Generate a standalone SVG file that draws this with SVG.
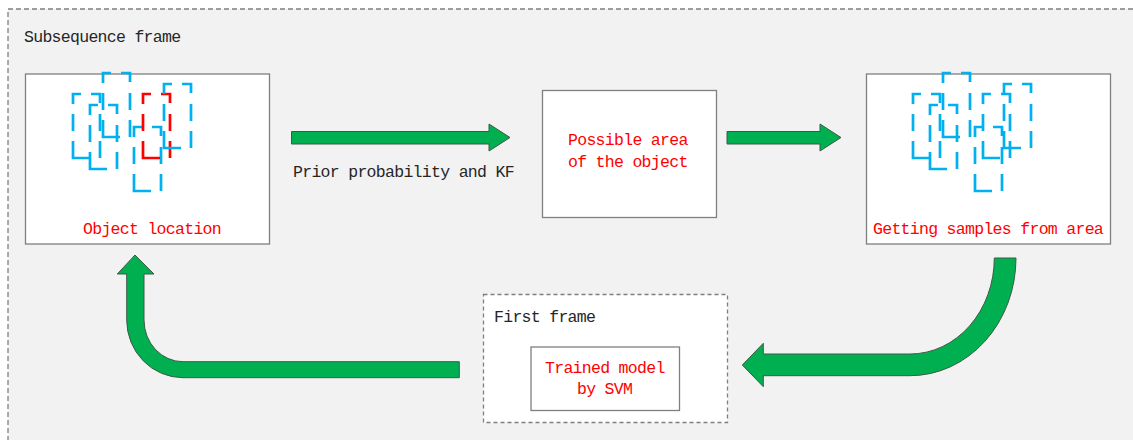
<svg xmlns="http://www.w3.org/2000/svg" xmlns:xlink="http://www.w3.org/1999/xlink" width="1133" height="440" viewBox="0 0 1133 440">
  <style>
    .txt { font-family: "Liberation Mono", "Courier New", monospace; font-size: 16.5px; letter-spacing: -0.7px; }
    .dark { fill: #262626; }
    .red { fill: #ff0000; }
    .box { fill: #ffffff; stroke: #7f7f7f; stroke-width: 1.3; }
    .smp { fill: none; stroke-width: 2.7; stroke-dasharray: 34 10 17 10 18 10 18 11 17 10 17 10; }
    .blue { stroke: #00b0f0; }
    .hot { stroke: #ff0000; }
    .arrow { fill: #00b050; stroke: #3d5a45; stroke-width: 1; stroke-linejoin: miter; }
  </style>
  <defs>
    <!-- candidate window outline, 27 x 64 -->
    <path id="win" d="M17 64 H0 V0 H27 V64 Z"/>
  </defs>

  <!-- outer container -->
  <g id="subsequence-frame">
    <rect x="0" y="0" width="1133" height="440" fill="#ffffff"/>
    <rect x="8" y="9" width="1200" height="500" fill="#f2f2f2" stroke="#7f7f7f" stroke-width="1.3" stroke-dasharray="5 3"/>
    <text class="txt dark" x="24" y="42">Subsequence frame</text>
  </g>

  <!-- tracked object -->
  <g id="object-location">
    <rect class="box" x="25.5" y="74" width="244" height="170"/>
    <use xlink:href="#win" class="smp blue" x="73" y="94"/>
    <use xlink:href="#win" class="smp blue" x="90" y="105"/>
    <use xlink:href="#win" class="smp blue" x="103" y="73"/>
    <use xlink:href="#win" class="smp blue" x="134" y="127"/>
    <use xlink:href="#win" class="smp hot" x="143" y="94"/>
    <use xlink:href="#win" class="smp blue" x="164" y="84"/>
    <text class="txt red" x="83" y="234">Object location</text>
  </g>

  <!-- predicted region -->
  <g id="possible-area">
    <rect class="box" x="542.5" y="90.5" width="174" height="127"/>
    <text class="txt red" x="568" y="145">Possible area</text>
    <text class="txt red" x="568" y="167">of the object</text>
  </g>

  <!-- sampling -->
  <g id="samples">
    <rect class="box" x="866.5" y="74" width="244" height="170"/>
    <use xlink:href="#win" class="smp blue" x="913" y="94"/>
    <use xlink:href="#win" class="smp blue" x="930" y="105"/>
    <use xlink:href="#win" class="smp blue" x="943" y="73"/>
    <use xlink:href="#win" class="smp blue" x="975" y="127"/>
    <use xlink:href="#win" class="smp blue" x="983" y="94"/>
    <use xlink:href="#win" class="smp blue" x="1004" y="84"/>
    <text class="txt red" x="873" y="234">Getting samples from area</text>
  </g>

  <!-- initial frame with classifier -->
  <g id="first-frame">
    <rect x="483.5" y="294.5" width="244" height="128" fill="#ffffff" stroke="#7f7f7f" stroke-width="1.3" stroke-dasharray="4 3"/>
    <text class="txt dark" x="494" y="322">First frame</text>
  </g>
  <g id="svm-model">
    <rect class="box" x="531" y="347" width="148.5" height="63.5"/>
    <text class="txt red" x="545" y="373">Trained model</text>
    <text class="txt red" x="577" y="394">by SVM</text>
  </g>

  <!-- flow arrows -->
  <g id="connectors">
    <path class="arrow" d="M291.5 131.5 H489 V124 L510 137.5 L489 151 V144 H291.5 Z"/>
    <text class="txt dark" x="293" y="177">Prior probability and KF</text>
    <path class="arrow" d="M727 131.5 H820 V124 L841 137.5 L820 151 V144 H727 Z"/>
    <path class="arrow" d="M994.3 258 H1016 A106 117.7 0 0 1 910 375.7 H763.3 V386.7 L742.3 365 L763.3 343.3 V354 H910 A84.3 96 0 0 0 994.3 258 Z"/>
    <path class="arrow" d="M459.3 361.7 V377.7 H183 A56.3 57.7 0 0 1 126.7 320 V274 H117.3 L135 255 L154 274 H144 V320 A39 41.7 0 0 0 183 361.7 Z"/>
  </g>
</svg>
